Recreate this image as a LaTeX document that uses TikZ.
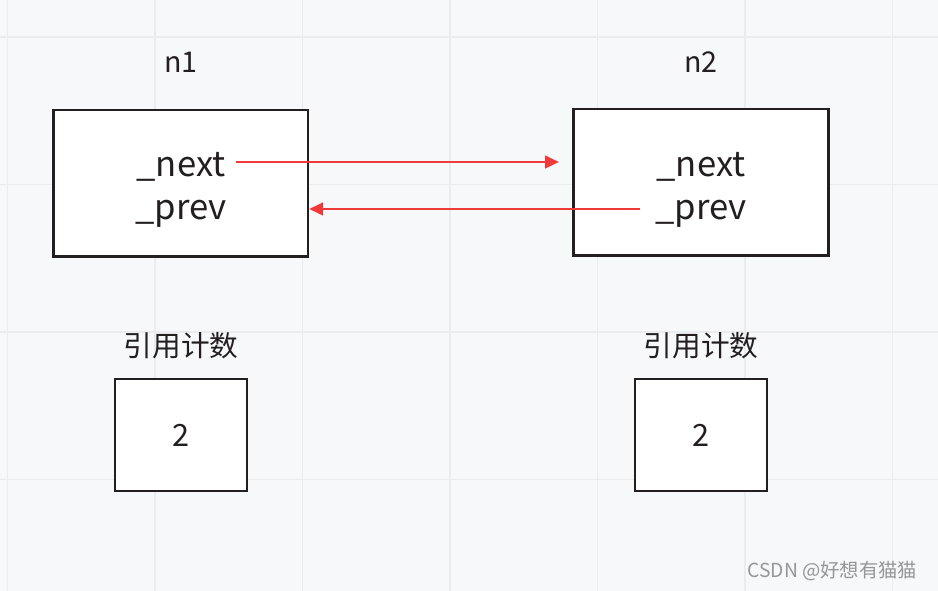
\documentclass[tikz,border=0pt]{standalone}
\usepackage{fontspec}
\setmainfont{Noto Sans CJK SC}
\usetikzlibrary{positioning,arrows.meta}

\definecolor{bgcol}{RGB}{247,248,250}
\definecolor{gridcol}{RGB}{234,236,239}
\definecolor{boxcol}{RGB}{35,31,32}
\definecolor{linkcol}{RGB}{240,58,58}
\definecolor{markcol}{RGB}{150,150,150}

\tikzset{
	membox/.style={draw=boxcol, line width=2pt, fill=white, minimum width=191pt, minimum height=110pt},
	cntbox/.style={draw=boxcol, line width=2pt, fill=white, minimum width=99pt, minimum height=84pt},
	field/.style={text=boxcol, font=\fontsize{26}{30}\selectfont, inner sep=0pt, anchor=base},
	caption/.style={text=boxcol, font=\fontsize{21.5}{24}\selectfont, anchor=base},
	link/.style={draw=linkcol, line width=1.9pt, -{Triangle[length=10.5pt,width=9.5pt]}}
}

\begin{document}
\begin{tikzpicture}[x=0.75pt,y=-0.75pt]
	% background and grid
	\fill[bgcol] (0,0) rectangle (938,591);
	\useasboundingbox (0,0) rectangle (938,591);
	\foreach \gx in {7.5,155,302.5,450,597.5,745,892.5}
		\draw[gridcol, line width=0.9pt] (\gx,0) -- (\gx,591);
	\foreach \gy in {37,184.5,332,479.5}
		\draw[gridcol, line width=0.9pt] (0,\gy) -- (938,\gy);

	% node n1
	\draw
	node[membox] (n1box) at (180.5,183.5) {}
	node[caption] (n1name) at (181,73) {n1}
	node[field] (n1next) at (181,177) {\_next}
	node[field] (n1prev) at (181,220) {\_prev};

	% node n2
	\draw
	node[membox] (n2box) at (701,182.5) {}
	node[caption] (n2name) at (701,73) {n2}
	node[field] (n2next) at (701,177) {\_next}
	node[field] (n2prev) at (701,220) {\_prev};

	% reference counts
	\draw
	node[cntbox] (n1cnt) at (181,435) {}
	node[caption, font=\fontsize{23}{26}\selectfont] (n1num) at (181,446) {2}
	node[caption] (n1cap) at (181,357) {引用计数}
	node[cntbox] (n2cnt) at (701,435) {}
	node[caption, font=\fontsize{23}{26}\selectfont] (n2num) at (701,446) {2}
	node[caption] (n2cap) at (701,357) {引用计数};

	% links
	\draw[link, shorten <=7.5pt, shorten >=10pt] ([yshift=11.25pt]n1next.base east) -- ([yshift=11.25pt]n2box.west |- n1next.base);
	\draw[link, shorten <=11pt] ([yshift=8.25pt]n2prev.base west) -- ([yshift=8.25pt]n1box.east |- n2prev.base);

	% watermark
	\node[text=markcol, font=\fontsize{14.5}{17}\selectfont, anchor=base east] (mark) at (922,577) {CSDN @好想有猫猫};
\end{tikzpicture}
\end{document}
